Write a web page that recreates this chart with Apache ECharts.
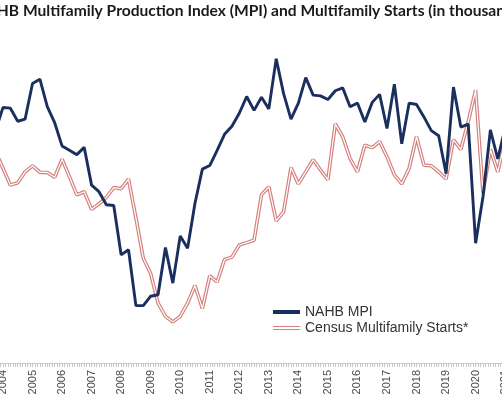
<!DOCTYPE html>
<html><head><meta charset="utf-8">
<script src="https://cdn.jsdelivr.net/npm/echarts@6/dist/echarts.min.js"></script>
<style>html,body{margin:0;padding:0;background:#fff}#c{width:502px;height:419px}</style>
</head><body><div id="c"></div>
<script>
const quarters = ['2003Q4',
 '2004Q1','2004Q2','2004Q3','2004Q4','2005Q1','2005Q2','2005Q3','2005Q4',
 '2006Q1','2006Q2','2006Q3','2006Q4','2007Q1','2007Q2','2007Q3','2007Q4',
 '2008Q1','2008Q2','2008Q3','2008Q4','2009Q1','2009Q2','2009Q3','2009Q4',
 '2010Q1','2010Q2','2010Q3','2010Q4','2011Q1','2011Q2','2011Q3','2011Q4',
 '2012Q1','2012Q2','2012Q3','2012Q4','2013Q1','2013Q2','2013Q3','2013Q4',
 '2014Q1','2014Q2','2014Q3','2014Q4','2015Q1','2015Q2','2015Q3','2015Q4',
 '2016Q1','2016Q2','2016Q3','2016Q4','2017Q1','2017Q2','2017Q3','2017Q4',
 '2018Q1','2018Q2','2018Q3','2018Q4','2019Q1','2019Q2','2019Q3','2019Q4',
 '2020Q1','2020Q2','2020Q3','2020Q4','2021Q1'];
const mpi = [52.0,
 55.2,55.1,53.3,53.6,58.5,59.1,55.3,53.1,
 49.9,49.3,48.7,49.7,44.5,43.6,41.8,41.7,
 34.9,35.6,27.9,27.9,29.2,29.4,35.9,31.0,
 37.5,35.8,42.0,46.7,47.2,49.3,51.5,52.6,
 54.4,56.7,54.8,56.6,55.0,61.9,57.1,53.6,
 55.8,59.3,56.9,56.8,56.3,57.5,57.9,55.3,
 55.8,53.2,55.9,57.0,52.3,58.4,50.2,55.8,
 55.6,53.9,52.0,51.3,46.1,58.0,52.5,52.9,
 36.5,42.9,52.1,48.1,52.4];
const starts = [349,
 322,294,298,316,326,315,315,307,
 337,308,278,283,254,263,274,290,
 288,304,240,173,148,99,77,68,
 77,99,128,90,144,134,171,175,
 195,199,203,278,291,235,250,323,
 296,316,336,319,303,395,374,338,
 316,360,356,366,341,311,296,322,
 374,327,326,316,304,369,353,399,
 451,281,353,316,368];
const yearLabels = [2003,2004,2005,2006,2007,2008,2009,2010,2011,2012,2013,2014,2015,2016,2017,2018,2019,2020,2021,2022];
const titleText = 'NAHB Multifamily Production Index (MPI) and Multifamily Starts (in thousands)';
const seriesNames = ['NAHB MPI', 'Census Multifamily Starts*'];

function qToT(s) { return +s.slice(0, 4) + (+s.slice(5) - 1) / 4; }
const ts = quarters.map(qToT);
const xMin = 2002.5454, xMax = 2022.2474;
const monthTicks = [];
for (let y = 2002; y <= 2022; y++) for (let m = 0; m < 12; m++) {
  const v = y + m / 12; if (v > xMin && v < xMax) monthTicks.push(v);
}
const blueColor = '#1b2f5f';
const redColor = '#d4807d';

const chart = echarts.init(document.getElementById('c'), null, {renderer: 'canvas'});
chart.setOption({
  animation: false,
  backgroundColor: '#ffffff',
  title: {
    text: titleText, left: -26, top: 3, padding: 0,
    textStyle: {fontFamily: 'Lato', fontWeight: 'bold', fontSize: 15.6, color: '#1a1a1a'}
  },
  legend: {
    orient: 'vertical', left: 273, top: 305, itemGap: 2, padding: 0,
    itemWidth: 27, itemHeight: 4, symbolKeepAspect: false,
    data: [
      {name: seriesNames[0], icon: 'path://M0,0H28V3H0Z'},
      {name: seriesNames[1], icon: 'path://M0,0H28V1H0Z M0,3H28V4H0Z'}
    ],
    textStyle: {fontFamily: 'Liberation Sans', fontSize: 14, color: '#333333'}
  },
  grid: {left: -40, right: -40, top: 0, bottom: 56, containLabel: false, outerBoundsMode: 'none'},
  xAxis: {
    type: 'value', min: xMin, max: xMax,
    splitLine: {show: false},
    axisLine: {show: true, lineStyle: {color: '#c8c8c8', width: 1}},
    axisTick: {show: true, customValues: monthTicks, length: 4, inside: false, lineStyle: {color: '#c8c8c8'}},
    axisLabel: {
      customValues: yearLabels, rotate: 90, margin: 7,
      fontFamily: 'Liberation Sans', fontSize: 11, color: '#4a4a4a',
      formatter: v => String(Math.round(v))
    }
  },
  yAxis: [
    {type: 'value', min: 20, max: 70, show: false, splitLine: {show: false}},
    {type: 'value', min: 0, max: 600, show: false, splitLine: {show: false}}
  ],
  series: [
    {
      name: seriesNames[1], type: 'line', yAxisIndex: 1, symbol: 'none',
      data: ts.map((t, i) => [t, starts[i]]),
      lineStyle: {color: redColor, width: 3.6}, itemStyle: {color: redColor}, z: 2
    },
    {
      name: 'starts-inner', type: 'line', yAxisIndex: 1, symbol: 'none', silent: true,
      data: ts.map((t, i) => [t, starts[i]]),
      lineStyle: {color: '#ffffff', width: 1.2}, z: 3
    },
    {
      name: seriesNames[0], type: 'line', yAxisIndex: 0, symbol: 'none',
      data: ts.map((t, i) => [t, mpi[i]]),
      lineStyle: {color: blueColor, width: 2.9}, itemStyle: {color: blueColor}, z: 4
    }
  ]
});
</script>
</body></html>
